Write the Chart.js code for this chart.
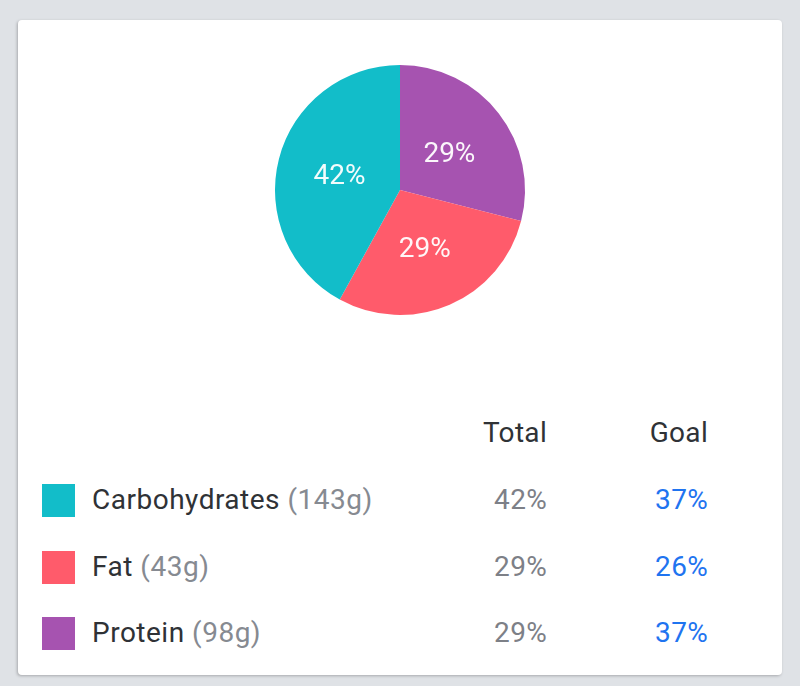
<!DOCTYPE html>
<html>
<head>
<meta charset="utf-8">
<script src="https://cdn.jsdelivr.net/npm/chart.js@4"></script>
<style>
  html, body { margin: 0; padding: 0; }
  body {
    width: 800px; height: 686px; background: #dfe2e6;
    font-family: Roboto, "Noto Sans", sans-serif; position: relative; overflow: hidden;
  }
  .card {
    position: absolute; left: 18px; top: 20px; width: 764px; height: 655px;
    background: #fff; border-radius: 4px;
    box-shadow: -1px 1px 3px rgba(0,0,0,0.25);
  }
  .pie-wrap { position: absolute; left: 0; top: 0; width: 764px; height: 340px; }
  .row { position: absolute; left: 0; width: 764px; height: 40px; line-height: 40px; font-size: 28px; }
  .swatch { position: absolute; left: 24px; top: 4px; width: 33px; height: 33px; }
  .name { position: absolute; left: 74px; color: #2f3236; letter-spacing: 0.5px; }
  .grams { color: #868a91; }
  .total { position: absolute; right: 235px; color: #7d8087; letter-spacing: 0.3px; }
  .goal { position: absolute; right: 74px; color: #1f74f0; letter-spacing: 0.3px; }
  .head .total, .head .goal { color: #2f3236; }
</style>
</head>
<body>
<div class="card">
  <div class="pie-wrap"><canvas id="pie"></canvas></div>
  <div id="legend"></div>
</div>
<script>
// Macro split, in table order
const macros = ["Carbohydrates", "Fat", "Protein"];
const grams = [143, 43, 98];
const totalPct = [42, 29, 29];
const goalPct = [37, 26, 37];
const colors = ["#12bdc9", "#ff5b6b", "#a653b0"];

// Pie goes clockwise from the top: Protein, Fat, Carbohydrates
const order = [2, 1, 0];

const pctLabels = {
  id: "pctLabels",
  afterDatasetsDraw(chart) {
    const ctx = chart.ctx;
    const meta = chart.getDatasetMeta(0);
    ctx.save();
    ctx.font = "28px Roboto";
    ctx.fillStyle = "rgba(255,255,255,0.95)";
    ctx.textAlign = "center";
    ctx.textBaseline = "middle";
    meta.data.forEach((arc, i) => {
      const p = arc.tooltipPosition();
      ctx.fillText(chart.data.datasets[0].data[i] + "%", p.x, p.y + 3);
    });
    ctx.restore();
  },
};

new Chart(document.getElementById("pie"), {
  type: "pie",
  data: {
    labels: order.map((i) => macros[i]),
    datasets: [
      {
        data: order.map((i) => totalPct[i]),
        backgroundColor: order.map((i) => colors[i]),
        borderWidth: 0,
        hoverOffset: 0,
      },
    ],
  },
  options: {
    responsive: true,
    maintainAspectRatio: false,
    animation: false,
    layout: { padding: 45 },
    plugins: { legend: { display: false }, tooltip: { enabled: false } },
  },
  plugins: [pctLabels],
});

// Legend table under the pie
const legend = document.getElementById("legend");
let html = `<div class="row head" style="top:393px">
  <span class="total">Total</span><span class="goal">Goal</span></div>`;
macros.forEach((m, i) => {
  const top = 460 + i * 66.5;
  html += `<div class="row" style="top:${top}px">
    <span class="swatch" style="background:${colors[i]}"></span>
    <span class="name">${m} <span class="grams">(${grams[i]}g)</span></span>
    <span class="total">${totalPct[i]}%</span>
    <span class="goal">${goalPct[i]}%</span>
  </div>`;
});
legend.innerHTML = html;
</script>
</body>
</html>
